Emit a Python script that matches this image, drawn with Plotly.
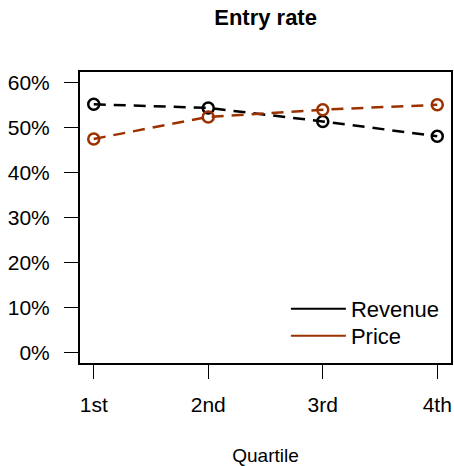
import plotly.graph_objects as go

quartiles = ["1st", "2nd", "3rd", "4th"]
x_pos = [1, 2, 3, 4]
revenue = [0.552, 0.544, 0.514, 0.481]
price = [0.475, 0.524, 0.540, 0.551]
y_ticks = [0, 0.1, 0.2, 0.3, 0.4, 0.5, 0.6]
y_labels = ["0%", "10%", "20%", "30%", "40%", "50%", "60%"]

BLACK = "#000000"
RED = "#9C3100"
FONT = "Liberation Sans, Arial, sans-serif"

fig = go.Figure()
for name, vals, col in [("Revenue", revenue, BLACK), ("Price", price, RED)]:
    fig.add_trace(go.Scatter(
        x=x_pos, y=vals, mode="lines+markers", showlegend=False,
        line=dict(color=col, width=2.5, dash="12px,8px"),
        marker=dict(symbol="circle-open", size=11, color=col, line=dict(width=2.5, color=col)),
    ))
for name, col, leg in [("Revenue", BLACK, "legend"), ("Price", RED, "legend2")]:
    fig.add_trace(go.Scatter(
        x=[None], y=[None], mode="lines", name=name, legend=leg,
        line=dict(color=col, width=2),
    ))

leg_common = dict(x=0.555, xanchor="left", yanchor="middle",
                  bgcolor="rgba(0,0,0,0)", font=dict(size=22, family=FONT),
                  itemwidth=55)

fig.update_layout(
    width=454, height=466,
    margin=dict(l=80, r=3, t=72, b=103),
    paper_bgcolor="white", plot_bgcolor="white",
    font=dict(family=FONT, color="black", size=21),
    title=dict(text="<b>Entry rate</b>", x=0.585, xanchor="center", y=0.962, yanchor="middle",
               font=dict(size=22, family=FONT)),
    showlegend=True,
    legend=dict(y=0.1856, **leg_common),
    legend2=dict(y=0.0928, **leg_common),
)
fig.update_xaxes(
    range=[0.88, 4.12], tickvals=x_pos, ticktext=quartiles, automargin=False,
    showgrid=False, zeroline=False, showline=True, linecolor="black", linewidth=2,
    mirror=True, ticks="outside", ticklen=14, tickwidth=1.2, tickcolor="black",
    ticklabelstandoff=8,
    title=dict(text="Quartile", font=dict(size=19, family=FONT), standoff=35),
)
fig.update_yaxes(
    range=[-0.024, 0.624], tickvals=y_ticks, ticktext=y_labels, automargin=False,
    showgrid=False, zeroline=False, showline=True, linecolor="black", linewidth=2,
    mirror=True, ticks="outside", ticklen=14, tickwidth=1.2, tickcolor="black",
    ticklabelstandoff=10,
)

fig.write_html("out.html", config={"displayModeBar": False},
               post_script="document.body.style.margin='0';")
